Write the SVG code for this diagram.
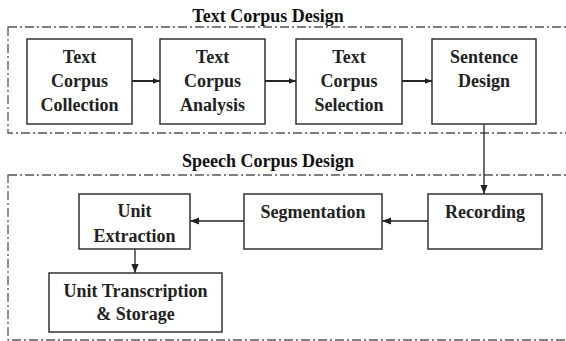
<svg xmlns="http://www.w3.org/2000/svg" width="566" height="341" viewBox="0 0 566 341">
<style>
.grp{fill:none;stroke:#555;stroke-width:1.3;stroke-dasharray:9 3 2 3}
.box{fill:#fff;stroke:#333;stroke-width:1.5}
.t{font-family:'Liberation Serif','DejaVu Serif','Times New Roman',serif;font-weight:bold;font-size:18px;fill:#222;text-anchor:middle}
.h{font-family:'Liberation Serif','DejaVu Serif','Times New Roman',serif;font-weight:bold;font-size:18px;fill:#111;text-anchor:middle}
.c{fill:none;stroke:#222;stroke-width:1.3}
.ct{fill:none;stroke:#222;stroke-width:2}
</style>
<defs>
<marker id="a" viewBox="0 0 10 10" refX="10" refY="5" markerWidth="7" markerHeight="7" markerUnits="userSpaceOnUse" orient="auto"><path d="M0,1 L10,5 L0,9 Z" fill="#222"/></marker>
<marker id="b" viewBox="0 0 10 10" refX="10" refY="5" markerWidth="9" markerHeight="9" markerUnits="userSpaceOnUse" orient="auto"><path d="M0,1 L10,5 L0,9 Z" fill="#222"/></marker>
</defs>
<g id="group-text">
<rect class="grp" x="8" y="27" width="570" height="106"/>
<text class="h" x="268" y="22">Text Corpus Design</text>
</g>
<g id="group-speech">
<rect class="grp" x="8" y="175" width="570" height="165"/>
<text class="h" x="268" y="167">Speech Corpus Design</text>
</g>
<g id="connectors">
<line class="ct" x1="132" y1="81" x2="160" y2="81" marker-end="url(#a)"/>
<line class="ct" x1="265" y1="81" x2="296" y2="81" marker-end="url(#a)"/>
<line class="ct" x1="402" y1="81" x2="432" y2="81" marker-end="url(#a)"/>
<line class="c" x1="484" y1="124" x2="484" y2="194" marker-end="url(#b)"/>
<line class="c" x1="428" y1="221" x2="382" y2="221" marker-end="url(#b)"/>
<line class="c" x1="244" y1="221" x2="190" y2="221" marker-end="url(#b)"/>
<line class="c" x1="135" y1="249" x2="135" y2="273" marker-end="url(#b)"/>
</g>
<g id="n1"><rect class="box" x="27" y="39" width="105" height="85"/>
<text class="t" x="79.5" y="63">Text</text><text class="t" x="79.5" y="87">Corpus</text><text class="t" x="79.5" y="111">Collection</text></g>
<g id="n2"><rect class="box" x="160" y="39" width="105" height="85"/>
<text class="t" x="212.5" y="63">Text</text><text class="t" x="212.5" y="87">Corpus</text><text class="t" x="212.5" y="111">Analysis</text></g>
<g id="n3"><rect class="box" x="296" y="39" width="106" height="85"/>
<text class="t" x="349" y="63">Text</text><text class="t" x="349" y="87">Corpus</text><text class="t" x="349" y="111">Selection</text></g>
<g id="n4"><rect class="box" x="432" y="39" width="104" height="85"/>
<text class="t" x="484" y="63">Sentence</text><text class="t" x="484" y="87">Design</text></g>
<g id="n5"><rect class="box" x="428" y="194" width="114" height="55"/>
<text class="t" x="485" y="218">Recording</text></g>
<g id="n6"><rect class="box" x="244" y="194" width="138" height="55"/>
<text class="t" x="313" y="218">Segmentation</text></g>
<g id="n7"><rect class="box" x="79" y="194" width="111" height="55"/>
<text class="t" x="134.5" y="217">Unit</text><text class="t" x="134.5" y="242">Extraction</text></g>
<g id="n8"><rect class="box" x="49" y="273" width="173" height="59"/>
<text class="t" x="135.5" y="297">Unit Transcription</text><text class="t" x="135.5" y="320">&amp; Storage</text></g>
</svg>
